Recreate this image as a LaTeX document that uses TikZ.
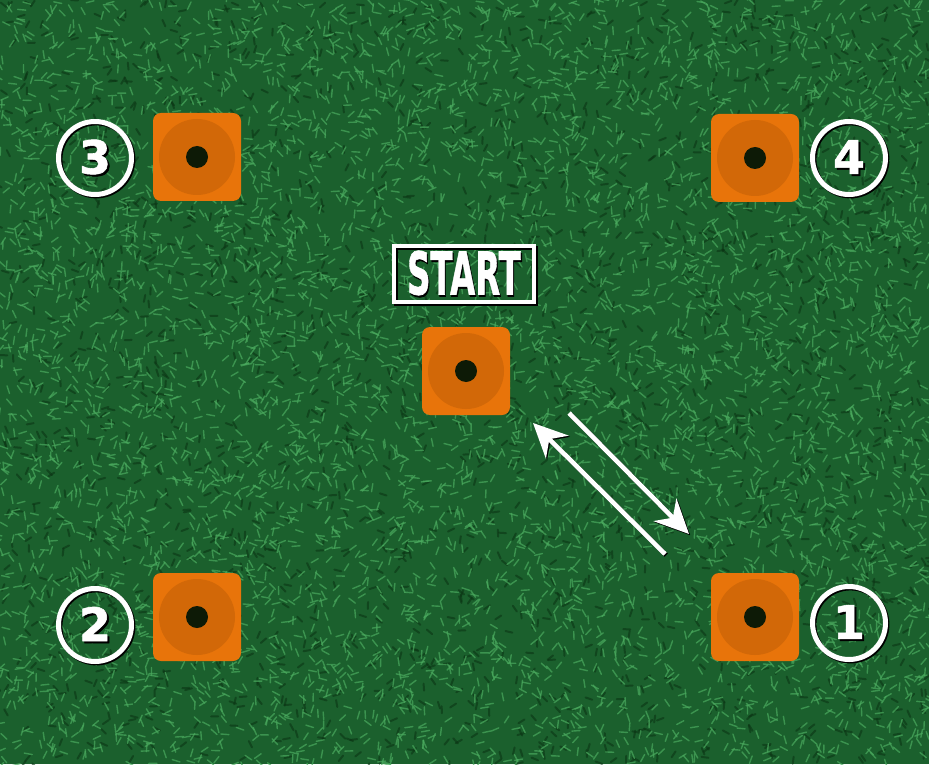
\documentclass[tikz,border=0pt]{standalone}
\usepackage{fontspec}
\setmainfont{DejaVu Sans}[BoldFeatures={FakeBold=1.2}]
\usepackage{graphicx}
\usetikzlibrary{arrows.meta}
\definecolor{grass}{HTML}{1B602D}
\definecolor{bladelight}{HTML}{4AAA5E}
\definecolor{bladedark}{HTML}{0B3514}
\definecolor{coneorange}{HTML}{E8740A}
\definecolor{conering}{HTML}{D26808}
\definecolor{conehole}{HTML}{0D1A06}
\newcommand\shadowed[1]{\rlap{\kern1pt\raisebox{-1pt}{\color{black}#1}}#1}
\tikzset{>=stealth,
  cone/.style={fill=coneorange, minimum size=44pt, rounded corners=4pt, inner sep=0pt},
  numring/.style={circle, draw=white, line width=2.5pt, minimum size=36.5pt, inner sep=0pt,
    text=white, font=\fontsize{23}{23}\selectfont\bfseries,
    preaction={draw=black, line width=2.5pt, transform canvas={shift={(0.7pt,-0.7pt)}}}},
  startbox/.style={draw=white, line width=2pt, minimum width=70pt, minimum height=28pt,
    inner sep=0pt, text=white, font=\fontsize{29.5}{29.5}\selectfont\bfseries,
    preaction={draw=black, line width=2pt, transform canvas={shift={(1.2pt,-1.2pt)}}}},
  runarrow/.style={draw=white, line width=2.3pt, -{Stealth[length=17pt, width=16pt]},
    preaction={draw=black, line width=2.3pt, -{Stealth[length=17pt, width=16pt]},
      transform canvas={shift={(0.6pt,-0.6pt)}}}}
}
\begin{document}
\begin{tikzpicture}[x=0.5pt, y=-0.5pt]
\fill[grass] (0,0) rectangle (929,764);
\useasboundingbox (0,0) rectangle (929,764);
% grass texture
\pgfmathsetseed{17}
\foreach \i in {1,...,2000}{
  \pgfmathsetmacro\gx{rnd*929}
  \pgfmathsetmacro\gy{rnd*764}
  \pgfmathsetmacro\ga{rnd*360}
  \draw[bladedark, line width=1pt, opacity=0.6, line cap=round] (\gx,\gy) -- ++(\ga:3.5pt);
}
\foreach \i in {1,...,6000}{
  \pgfmathsetmacro\gx{rnd*929}
  \pgfmathsetmacro\gy{rnd*764}
  \pgfmathsetmacro\ga{rnd*360}
  \draw[bladelight, line width=0.7pt, opacity=0.7, line cap=round] (\gx,\gy) -- ++(\ga:4pt);
}
% cones
\node[cone] (c3) at (197,157) {};
\node[cone] (c4) at (755,158) {};
\node[cone] (cs) at (466,371) {};
\node[cone] (c2) at (197,617) {};
\node[cone] (c1) at (755,617) {};
\foreach \c in {c1,c2,c3,c4,cs}{
  \fill[conering] (\c.center) circle (19pt);
  \fill[conehole] (\c.center) circle (5.5pt);
}
% numbers
\node[numring] (n3) at (95,158) {\shadowed{3}};
\node[numring] (n4) at (849,158) {\shadowed{4}};
\node[numring] (n2) at (95,625) {\shadowed{2}};
\node[numring] (n1) at (849,623) {\shadowed{1}};
% start label
\node[startbox] (start) at (464,274) {\scalebox{0.55}[1]{\shadowed{START}}};
% run out and back
\coordinate (outA) at (569,413);
\coordinate (outB) at (689,534);
\coordinate (backA) at (665,554);
\coordinate (backB) at (533,423);
\draw[runarrow] (outA) -- (outB);
\draw[runarrow] (backA) -- (backB);
\end{tikzpicture}
\end{document}
